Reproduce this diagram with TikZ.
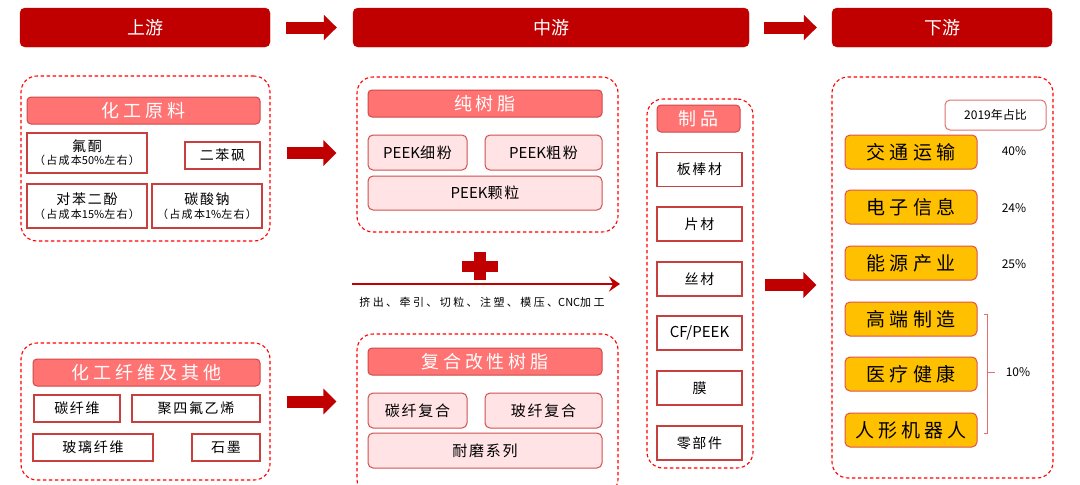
\documentclass[tikz,border=0pt]{standalone}
\usepackage{fontspec}
\setmainfont{Noto Sans CJK SC}
\newfontfamily\wideA[LetterSpace=12]{Noto Sans CJK SC}
\newfontfamily\wideB[LetterSpace=22]{Noto Sans CJK SC}
\usetikzlibrary{arrows.meta,calc}
\definecolor{dred}{HTML}{C00000}
\definecolor{subfill}{HTML}{FF7373}
\definecolor{subline}{HTML}{D04848}
\definecolor{wline}{HTML}{C8403D}
\definecolor{pinkfill}{HTML}{FFE3E5}
\definecolor{pinkline}{HTML}{D05050}
\definecolor{ofill}{HTML}{FFC000}
\definecolor{oline}{HTML}{E0504D}
\definecolor{bline}{HTML}{E07070}
\newcommand\lat[1]{{\normalfont #1}}
\begin{document}
\begin{tikzpicture}[x=1pt,y=-1pt,
  hdr/.style={fill=dred, draw=dred, rounded corners=5pt, text=white, font=\fontsize{18}{20}\selectfont, inner sep=0pt},
  grp/.style={draw=red, dash pattern=on 3.5pt off 2.5pt, line width=1.1pt, rounded corners=16pt, inner sep=0pt},
  sub/.style={fill=subfill, draw=subline, line width=1pt, rounded corners=4pt, text=white, font=\wideB\fontsize{18}{20}\selectfont, inner sep=0pt},
  wbox/.style={fill=white, draw=wline, line width=1.2pt, font=\wideA\fontsize{14}{16}\selectfont, align=center, inner sep=0pt},
  pkbox/.style={fill=pinkfill, draw=pinkline, line width=1pt, rounded corners=5pt, font=\wideA\fontsize{15}{17}\selectfont, inner sep=0pt},
  obox/.style={fill=ofill, draw=oline, line width=1pt, rounded corners=5pt, font=\wideB\fontsize{19}{21}\selectfont, inner sep=0pt, minimum width=132pt, minimum height=34pt},
  prbox/.style={wbox, minimum width=85pt, minimum height=34pt},
  pct/.style={font=\fontsize{12}{14}\selectfont, inner sep=0pt},
  bigarrow/.style={draw=dred, line width=12pt, -{Triangle[length=13pt,width=25pt]}},
  small/.style={font=\fontsize{11}{13}\selectfont}
]
\useasboundingbox (0,0) rectangle (1080,485);

% headers
\node[hdr, minimum width=250pt, minimum height=39pt] (h1) at (145,27.5) {上游};
\node[hdr, minimum width=396pt, minimum height=39pt] (h2) at (551,27.5) {中游};
\node[hdr, minimum width=220pt, minimum height=39pt] (h3) at (942,27.5) {下游};
\draw[bigarrow] ($(h1.east)+(16,0)$) -- ($(h2.west)+(-16,0)$);
\draw[bigarrow] ($(h2.east)+(15,0)$) -- ($(h3.west)+(-15,0)$);

% upstream group 1
\node[grp, minimum width=249pt, minimum height=165pt] (g1) at (145.5,158.5) {};
\node[sub, minimum width=233pt, minimum height=27pt] (s1) at (143.5,110.5) {化工原料};
\node[wbox, minimum width=120pt, minimum height=40pt] (u1) at (87,153) {氟酮\\[-3pt]{\fontsize{11}{13}\selectfont （占成本\lat{50\%}左右）}};
\node[wbox, minimum width=75pt, minimum height=27pt] (u2) at (222.5,155.5) {二苯砜};
\node[wbox, minimum width=120pt, minimum height=44pt] (u3) at (87,206) {对苯二酚\\[-2pt]{\fontsize{11}{13}\selectfont （占成本\lat{15\%}左右）}};
\node[wbox, minimum width=110pt, minimum height=44pt] (u4) at (207,206) {碳酸钠\\[-2pt]{\fontsize{11}{13}\selectfont （占成本\lat{1\%}左右）}};

% upstream group 2
\node[grp, minimum width=249pt, minimum height=137pt] (g2) at (145.5,411.5) {};
\node[sub, minimum width=227pt, minimum height=27pt] (s2) at (146.5,372.5) {化工纤维及其他};
\node[wbox, minimum width=86pt, minimum height=27pt] (v1) at (77,408.5) {碳纤维};
\node[wbox, minimum width=128pt, minimum height=27pt] (v2) at (196,408.5) {聚四氟乙烯};
\node[wbox, minimum width=120pt, minimum height=27pt] (v3) at (93,447.5) {玻璃纤维};
\node[wbox, minimum width=68pt, minimum height=27pt] (v4) at (226,447.5) {石墨};

% midstream group 1
\node[grp, minimum width=261pt, minimum height=155pt] (m1) at (487.5,154.5) {};
\node[sub, minimum width=234pt, minimum height=27pt] (s3) at (485,103.5) {纯树脂};
\node[pkbox, minimum width=99pt, minimum height=35pt] (p1) at (417.5,152.5) {\lat{PEEK}细粉};
\node[pkbox, minimum width=117pt, minimum height=35pt] (p2) at (543.5,152.5) {\lat{PEEK}粗粉};
\node[pkbox, minimum width=234pt, minimum height=34pt] (p3) at (485,193) {\lat{PEEK}颗粒};

% midstream group 2
\node[grp, minimum width=261pt, minimum height=161pt] (m2) at (487.5,414.5) {};
\node[sub, minimum width=234pt, minimum height=27pt] (s4) at (485,361.5) {复合改性树脂};
\node[pkbox, minimum width=99pt, minimum height=35pt] (q1) at (417.5,410.5) {碳纤复合};
\node[pkbox, minimum width=117pt, minimum height=35pt] (q2) at (543.5,410.5) {玻纤复合};
\node[pkbox, minimum width=234pt, minimum height=35pt] (q3) at (485,450.5) {耐磨系列};

% arrows upstream -> midstream
\draw[bigarrow] ($(g1.east)+(16,-5.5)$) -- ($(g1.east -| m1.west)+(-20,-5.5)$);
\draw[bigarrow] ($(g2.east)+(16,-10)$) -- ($(g2.east -| m2.west)+(-20,-10)$);

% cross and process line
\fill[dred] (462,261) rectangle (498,272);
\fill[dred] (473.5,252) rectangle (485.5,280);
\coordinate (pa) at (352,284);
\coordinate (pb) at (620,284);
\draw[dred, line width=2pt, -{Stealth[length=11pt,width=15pt,inset=4pt]}] (pa) -- (pb);
\node[font=\wideB\fontsize{11}{13}\selectfont, inner sep=0pt] (ptext) at (482,302) {挤出、牵引、切粒、注塑、模压、\lat{CNC}加工};

% products
\node[grp, minimum width=106pt, minimum height=369pt] (pg) at (700,283.5) {};
\node[sub, minimum width=83pt, minimum height=27pt] (s5) at (698.5,118.5) {制品};
\node[prbox] (r1) at (699.5,169.5) {板棒材};
\node[prbox] (r2) at (699.5,224) {片材};
\node[prbox] (r3) at (699.5,279) {丝材};
\node[prbox, font=\fontsize{15}{17}\selectfont] (r4) at (699.5,333) {CF/PEEK};
\node[prbox] (r5) at (699.5,388) {膜};
\node[prbox] (r6) at (699.5,443) {零部件};

% downstream
\node[grp, minimum width=221pt, minimum height=401pt] (dg) at (942.5,277.5) {};
\draw[bigarrow] ($(pg.east)+(11,1.5)$) -- ($(pg.east -| dg.west)+(-15,1.5)$);
\node[draw=bline, fill=white, line width=1pt, rounded corners=5pt, minimum width=101pt, minimum height=30pt, inner sep=0pt, font=\fontsize{12}{14}\selectfont] (yr) at (995.5,115) {2019年占比};
\node[obox] (o1) at (911,152) {交通运输};
\node[obox] (o2) at (911,207) {电子信息};
\node[obox] (o3) at (911,263) {能源产业};
\node[obox] (o4) at (911,319) {高端制造};
\node[obox] (o5) at (911,374) {医疗健康};
\node[obox] (o6) at (911,430) {人形机器人};
\node[pct] (t1) at (1014,151) {40\%};
\node[pct] (t2) at (1014,208) {24\%};
\node[pct] (t3) at (1014,264) {25\%};
\node[pct] (t4) at (1018,372) {10\%};
\draw[bline, line width=0.9pt] (984,314) -- (987.5,314) -- (987.5,433) -- (984,433);
\draw[bline, line width=0.9pt] (987.5,372) -- (995,372);
\end{tikzpicture}
\end{document}
